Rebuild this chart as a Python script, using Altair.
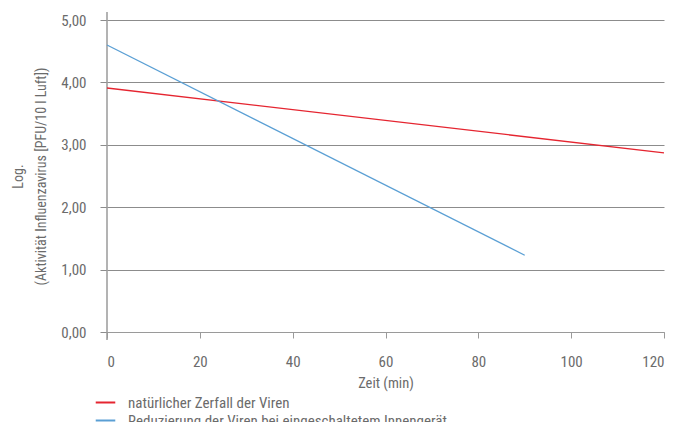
import altair as alt
import pandas as pd

series_names = ["natürlicher Zerfall der Viren", "Reduzierung der Viren bei eingeschaltetem Innengerät"]
red_time = [0, 120]
red_vals = [3.91, 2.87]
blue_time = [0, 90]
blue_vals = [4.60, 1.23]
colors = ["#e52530", "#5a9fd4"]

rows = []
for t, v in zip(red_time, red_vals):
    rows.append({"t": t, "v": v, "s": series_names[0]})
for t, v in zip(blue_time, blue_vals):
    rows.append({"t": t, "v": v, "s": series_names[1]})
df = pd.DataFrame(rows)

FONT = "Liberation Sans Narrow, Roboto Condensed, Roboto, sans-serif"
GRAY = "#6b6b6b"
W, H = 557, 312

lines = alt.Chart(df).mark_line(strokeWidth=1.3).encode(
    x=alt.X("t:Q", scale=alt.Scale(domain=[0, 120], nice=False),
            axis=alt.Axis(values=[0, 20, 40, 60, 80, 100, 120], title="Zeit (min)",
                          grid=False, domain=True, domainColor="#9a9a9a", tickColor="#9a9a9a",
                          tickSize=6, labelPadding=16, titlePadding=7)),
    y=alt.Y("v:Q", scale=alt.Scale(domain=[0, 5], nice=False),
            axis=alt.Axis(values=[0, 1, 2, 3, 4, 5], domain=False,
                          labelExpr="replace(format(datum.value, '.2f'), '.', ',')",
                          title=["Log.", "(Aktivität Influenzavirus [PFU/10 l Luft])"],
                          titleLineHeight=23,
                          grid=True, gridColor="#8c8c8c", tickColor="#8c8c8c", tickSize=7,
                          labelPadding=14, titlePadding=12, tickCount=6)),
    color=alt.Color("s:N", scale=alt.Scale(domain=series_names, range=colors),
                    legend=alt.Legend(title=None, orient="none", legendX=-11, legendY=373,
                                      padding=0, symbolType="M-1.15,0H1.15", symbolSize=289,
                                      symbolStrokeWidth=2, rowPadding=0, labelLimit=500,
                                      labelOffset=13)),
    order="t:Q",
)

yline = alt.Chart(pd.DataFrame({"a": [0]})).mark_rule(color="#9a9a9a", strokeWidth=1.5).encode(
    x=alt.value(0), y=alt.value(-8), y2=alt.value(H + 8)
)

chart = (yline + lines).properties(
    width=W, height=H,
    autosize=alt.AutoSizeParams(type="none"),
    padding={"left": 99, "top": 12, "right": 4, "bottom": 90},
).configure_axis(
    labelFont=FONT, titleFont=FONT, labelFontSize=15, titleFontSize=14,
    labelColor=GRAY, titleColor=GRAY, titleFontWeight="normal",
).configure_axisX(titleFontSize=14.5).configure_legend(
    labelFont=FONT, labelFontSize=15, labelColor=GRAY,
).configure_view(stroke=None)

chart.save("out.html", embed_options={"renderer": "svg", "actions": False})
